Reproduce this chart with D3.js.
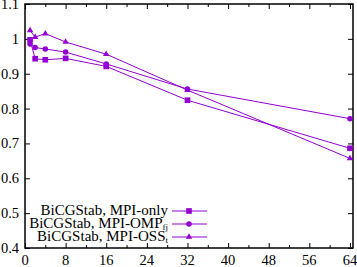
<!DOCTYPE html>
<html>
<head>
<meta charset="utf-8">
<script src="https://cdn.jsdelivr.net/npm/d3@7"></script>
<style>
body { margin: 0; background: #fff; }
text { font-family: "Liberation Serif", "DejaVu Serif", serif; }
</style>
</head>
<body>
<div id="chart-area"></div>
<script>
var threads = [1, 2, 4, 8, 16, 32, 64];
var mpiOnly = [0.997, 0.943, 0.940, 0.944, 0.921, 0.824, 0.686];
var mpiOmp = [0.985, 0.975, 0.971, 0.962, 0.928, 0.856, 0.771];
var mpiOss = [1.024, 1.005, 1.015, 0.991, 0.956, 0.853, 0.657];
var xTicks = [0, 8, 16, 24, 32, 40, 48, 56, 64];
var yTicks = [0.4, 0.5, 0.6, 0.7, 0.8, 0.9, 1, 1.1];
var names = ["BiCGStab, MPI-only", "BiCGStab, MPI-OMP", "BiCGStab, MPI-OSS"];
var subs = ["", "fj", "t"];

var margin = {top: 4, right: 4, bottom: 19, left: 25};
var width = 357 - margin.left - margin.right;
var height = 267 - margin.top - margin.bottom;
var color = "#9400d3";

var svg = d3.select("#chart-area").append("svg")
    .attr("width", 357)
    .attr("height", 267);

var g = svg.append("g")
    .attr("transform", "translate(" + margin.left + "," + margin.top + ")");

var x = d3.scaleLinear().domain([0, 64.6]).range([0, width]);
var y = d3.scaleLinear().domain([0.4, 1.1]).range([height, 0]);

// ticks, inward on all four sides
var minor = d3.range(4, 64, 8);
g.append("g").call(d3.axisBottom(x).tickValues(xTicks).tickSize(-5).tickFormat(""))
    .attr("transform", "translate(0," + height + ")");
g.append("g").call(d3.axisBottom(x).tickValues(minor).tickSize(-3).tickFormat(""))
    .attr("transform", "translate(0," + height + ")");
g.append("g").call(d3.axisTop(x).tickValues(xTicks).tickSize(-5).tickFormat(""));
g.append("g").call(d3.axisTop(x).tickValues(minor).tickSize(-3).tickFormat(""));
g.append("g").call(d3.axisLeft(y).tickValues(yTicks).tickSize(-5).tickFormat(""));
g.append("g").call(d3.axisRight(y).tickValues(yTicks).tickSize(-5).tickFormat(""))
    .attr("transform", "translate(" + width + ",0)");
g.selectAll(".domain").remove();
g.selectAll(".tick line").attr("stroke", "#000").attr("stroke-width", 1);

g.append("rect")
    .attr("width", width).attr("height", height)
    .attr("fill", "none").attr("stroke", "#000").attr("stroke-width", 1.5);

g.selectAll(".xlab").data(xTicks).enter().append("text")
    .attr("x", d => x(d)).attr("y", height + 16.5)
    .attr("text-anchor", "middle").attr("font-size", "14.5px")
    .text(d => d);
g.selectAll(".ylab").data(yTicks).enter().append("text")
    .attr("x", -6).attr("y", d => y(d) + 5)
    .attr("text-anchor", "end").attr("font-size", "14.5px")
    .text(d => d);

var series = [mpiOnly, mpiOmp, mpiOss];
var shapes = [d3.symbolSquare, d3.symbolCircle, d3.symbolTriangle];
var sizes = [32, 24, 18];
var line = d3.line().x((d, i) => x(threads[i])).y(d => y(d));

series.forEach(function(s, k) {
    g.append("path").datum(s)
        .attr("d", line).attr("fill", "none")
        .attr("stroke", color).attr("stroke-width", 1);
    g.selectAll(".m" + k).data(s).enter().append("path")
        .attr("d", d3.symbol().type(shapes[k]).size(sizes[k]))
        .attr("transform", (d, i) => "translate(" + x(threads[i]) + "," + y(d) + ")")
        .attr("fill", color);
});

// legend
var legend = g.append("g");
names.forEach(function(n, k) {
    var ly = 207 + k * 13;
    var t = legend.append("text")
        .attr("x", 143).attr("y", ly + 4)
        .attr("text-anchor", "end").attr("font-size", "15px");
    t.append("tspan").text(n);
    if (subs[k]) {
        t.append("tspan").attr("font-size", "9px").attr("dy", 2).text(subs[k]);
    }
    legend.append("line")
        .attr("x1", 147).attr("x2", 182).attr("y1", ly).attr("y2", ly)
        .attr("stroke", color).attr("stroke-width", 1);
    legend.append("path")
        .attr("d", d3.symbol().type(shapes[k]).size(sizes[k]))
        .attr("transform", "translate(" + 164 + "," + ly + ")")
        .attr("fill", color);
});
</script>
</body>
</html>
